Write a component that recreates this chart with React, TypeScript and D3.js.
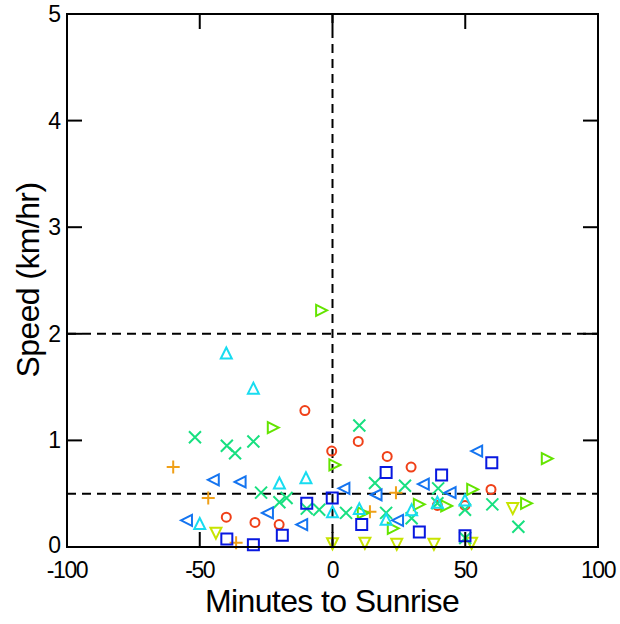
import React from "react";
import * as d3 from "d3";

const xTicks = [-100, -50, 0, 50, 100];
const yTicks = [0, 1, 2, 3, 4, 5];
const refY = [0.5, 2];
const refX = [0];

const plusX = [-60, -46.8, -36.3, 14.1, 23.9];
const plusY = [0.75, 0.46, 0.04, 0.33, 0.51];

const circleX = [-40, -29.2, -20.1, -10.4, -0.3, 9.7, 20.6, 29.6, 39.5, 49.9, 59.7];
const circleY = [0.28, 0.23, 0.21, 1.28, 0.9, 0.99, 0.85, 0.75, 0.39, 0.39, 0.54];

const downX = [-43.9, 0, 12.2, 24.2, 38.2, 52.4, 67.9];
const downY = [0.13, 0.03, 0.035, 0.025, 0.025, 0.035, 0.36];

const rightX = [-22.3, -4.1, 0.9, 11.6, 22.9, 32.7, 43, 52.8, 73.1, 80.9];
const rightY = [1.12, 2.22, 0.77, 0.32, 0.175, 0.4, 0.385, 0.54, 0.41, 0.83];

const crossX = [-51.8, -39.8, -36.7, -29.8, -26.9, -20, -17.3, -9.7, -5, 5.1, 10.1, 16, 20.2, 27.3, 29.8, 39.8, 39.5, 49.9, 50, 60.2, 70];
const crossY = [1.03, 0.95, 0.88, 0.99, 0.51, 0.42, 0.46, 0.36, 0.35, 0.32, 1.14, 0.6, 0.32, 0.575, 0.27, 0.55, 0.41, 0.35, 0.085, 0.4, 0.19];

const upX = [-50, -40, -29.8, -20, -10, 0, 10.1, 20.2, 29.8, 39.5, 49.9];
const upY = [0.22, 1.82, 1.49, 0.6, 0.65, 0.33, 0.36, 0.26, 0.35, 0.42, 0.44];

const leftX = [-55, -44.9, -34.8, -24.5, -11.6, 4.3, 16.4, 24.5, 34.2, 44.3, 54.3];
const leftY = [0.25, 0.63, 0.61, 0.32, 0.21, 0.55, 0.49, 0.25, 0.59, 0.51, 0.9];

const squareX = [-39.8, -29.8, -18.9, -9.7, -0.1, 11, 20.2, 32.7, 41.1, 49.9, 60];
const squareY = [0.075, 0.02, 0.11, 0.41, 0.46, 0.21, 0.7, 0.14, 0.675, 0.105, 0.79];

const W = 620;
const H = 624;
const left = 67, right = 598, top = 14, bottom = 547;

const s = 5.5;
const shapes: Record<string, string> = {
  plus: `M-6.5,0H6.5M0,-6.5V6.5`,
  cross: `M-6,-6L6,6M-6,6L6,-6`,
  circle: `M4.5,0A4.5,4.5 0 1 1 -4.5,0A4.5,4.5 0 1 1 4.5,0Z`,
  down: `M0,${s}L${s},${-s}L${-s},${-s}Z`,
  up: `M0,${-s}L${s},${s}L${-s},${s}Z`,
  right: `M${s},0L${-s},${-s}L${-s},${s}Z`,
  left: `M${-s},0L${s},${-s}L${s},${s}Z`,
  square: `M${-s},${-s}H${s}V${s}H${-s}Z`,
};

const series = [
  { xs: plusX, ys: plusY, shape: "plus", color: "#f0a018" },
  { xs: circleX, ys: circleY, shape: "circle", color: "#f04018" },
  { xs: downX, ys: downY, shape: "down", color: "#c8e400" },
  { xs: rightX, ys: rightY, shape: "right", color: "#64e400" },
  { xs: crossX, ys: crossY, shape: "cross", color: "#18e080" },
  { xs: upX, ys: upY, shape: "up", color: "#18dcf0" },
  { xs: leftX, ys: leftY, shape: "left", color: "#1474f0" },
  { xs: squareX, ys: squareY, shape: "square", color: "#0818e0" },
];

export default function App() {
  const x = d3.scaleLinear().domain([-100, 100]).range([left, right]);
  const y = d3.scaleLinear().domain([0, 5]).range([bottom, top]);
  const font = "Arial, 'Liberation Sans', sans-serif";
  const tl = 15;
  return (
    <svg width={W} height={H} style={{ position: "absolute", left: 0, top: 0, background: "#fff" }}>
      <rect x={0} y={0} width={W} height={H} fill="#fff" />
      {refY.map((v) => (
        <line key={"ry" + v} x1={left} x2={right} y1={y(v)} y2={y(v)} stroke="#000" strokeWidth={2} strokeDasharray="9,6" />
      ))}
      {refX.map((v) => (
        <line key={"rx" + v} x1={x(v)} x2={x(v)} y1={top} y2={bottom} stroke="#000" strokeWidth={2} strokeDasharray="9,6" />
      ))}
      {series.map((se, i) => (
        <g key={i}>
          {se.xs.map((xv, j) => (
            <path
              key={j}
              d={shapes[se.shape]}
              transform={`translate(${x(xv)},${y(se.ys[j])})`}
              fill="none"
              stroke={se.color}
              strokeWidth={2}
            />
          ))}
        </g>
      ))}
      {xTicks.map((t) => (
        <g key={"xt" + t}>
          <line x1={x(t)} x2={x(t)} y1={bottom} y2={bottom - tl} stroke="#000" strokeWidth={2} />
          <line x1={x(t)} x2={x(t)} y1={top} y2={top + tl} stroke="#000" strokeWidth={2} />
          <text x={x(t)} y={578} textAnchor="middle" fontFamily={font} fontSize={23} letterSpacing={-1.4} fill="#000">
            {t}
          </text>
        </g>
      ))}
      {yTicks.map((t) => (
        <g key={"yt" + t}>
          <line x1={left} x2={left + tl} y1={y(t)} y2={y(t)} stroke="#000" strokeWidth={2} />
          <line x1={right} x2={right - tl} y1={y(t)} y2={y(t)} stroke="#000" strokeWidth={2} />
          <text x={61} y={y(t) + (t === 0 ? 6 : 8)} textAnchor="end" fontFamily={font} fontSize={23} fill="#000">
            {t}
          </text>
        </g>
      ))}
      <rect x={left} y={top} width={right - left} height={bottom - top} fill="none" stroke="#000" strokeWidth={2} />
      <text x={332} y={612} textAnchor="middle" fontFamily={font} fontSize={32} letterSpacing={-0.6} fill="#000">
        Minutes to Sunrise
      </text>
      <text
        transform={`translate(39,280) rotate(-90)`}
        textAnchor="middle"
        fontFamily={font}
        fontSize={32}
        letterSpacing={-0.6}
        fill="#000"
      >
        Speed (km/hr)
      </text>
    </svg>
  );
}
